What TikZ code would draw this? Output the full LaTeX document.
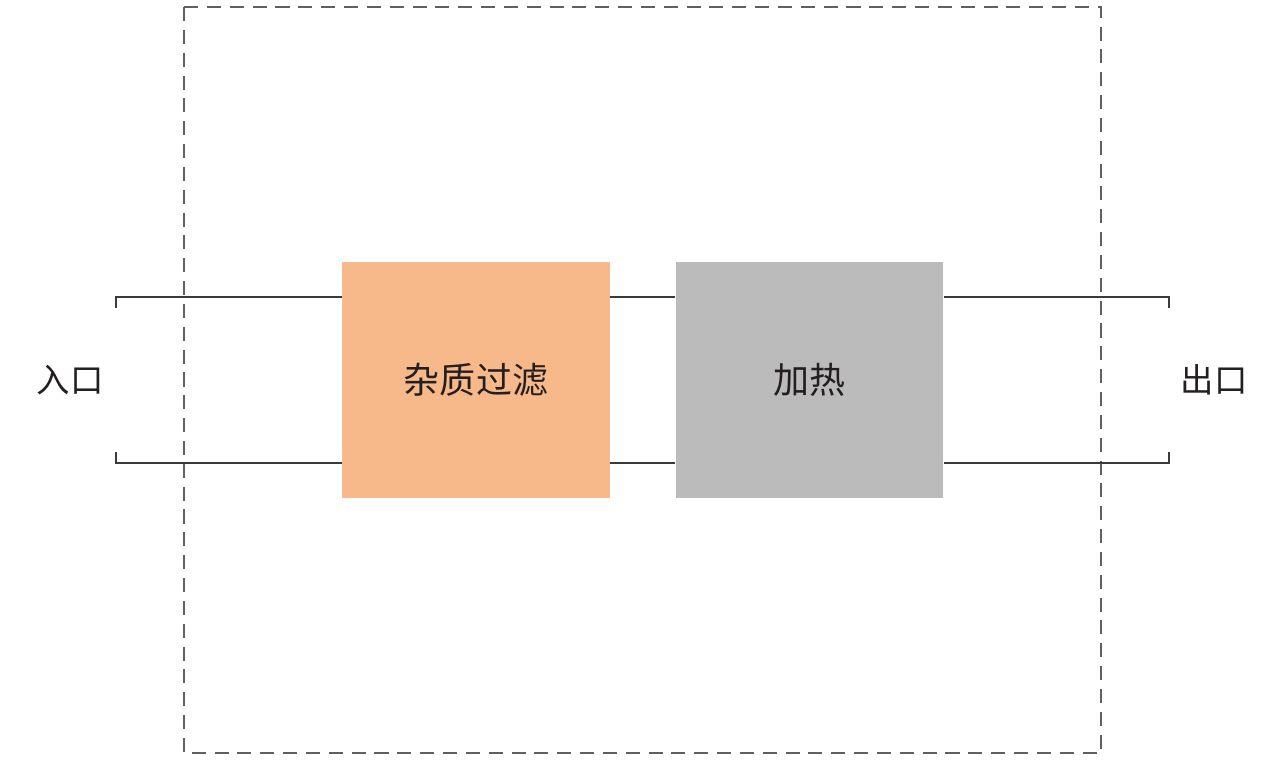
\documentclass[tikz,border=0pt]{standalone}
\usepackage{fontspec}
\newfontfamily\cjk{Noto Sans CJK SC}
\usepackage{tikz}
\usetikzlibrary{positioning}

\definecolor{filtorange}{HTML}{F7B98A}
\definecolor{heatgray}{HTML}{BCBBBB}
\definecolor{pipeline}{HTML}{3A3A3A}
\definecolor{labeltext}{HTML}{231F20}

\tikzset{
  unitbox/.style={minimum width=5.36cm,minimum height=4.72cm,inner sep=0pt,
    font=\cjk\fontsize{20.5}{24}\selectfont,text=labeltext},
  pipe/.style={draw=pipeline,line width=0.7pt},
  portlabel/.style={font=\cjk\fontsize{19}{22}\selectfont,text=labeltext},
}

\begin{document}
\begin{tikzpicture}[x=0.02cm,y=-0.02cm]
			\useasboundingbox (0,0) rectangle (1274,773);
			% system boundary
			\draw[gray!75!black,dashed,dash pattern=on 8pt off 5pt,line width=0.7pt] (184,7) rectangle (1101,753);
			% units
			\node[unitbox,fill=filtorange] (filt) at (476,380) {\raisebox{1.5pt}{杂质过滤}};
			\node[unitbox,fill=heatgray] (heat) at (809.5,380) {加热};
			% ports
			\coordinate (inT) at (116,297);
			\coordinate (inB) at (116,463);
			\coordinate (outT) at (1169,297);
			\coordinate (outB) at (1169,463);
			\node[portlabel] (inlbl) at (70,380) {入口};
			\node[portlabel] (outlbl) at (1214,380) {出口};
			% pipes
			\draw[pipe] ([yshift=-0.22cm]inT) -- (inT) -- (filt.west |- inT);
			\draw[pipe] ([yshift=0.22cm]inB) -- (inB) -- (filt.west |- inB);
			\draw[pipe] (filt.east |- inT) -- (heat.west |- inT);
			\draw[pipe] (filt.east |- inB) -- (heat.west |- inB);
			\draw[pipe] (heat.east |- outT) -- (outT) -- ([yshift=-0.22cm]outT);
			\draw[pipe] (heat.east |- outB) -- (outB) -- ([yshift=0.22cm]outB);
		\end{tikzpicture}
\end{document}
